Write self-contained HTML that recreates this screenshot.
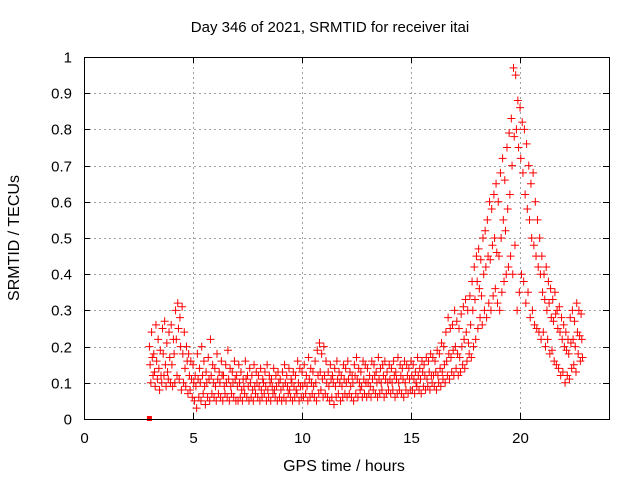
<!DOCTYPE html>
<html><head><meta charset="utf-8"><style>
body{margin:0;background:#fff}
svg{display:block;font-family:"Liberation Sans",sans-serif}
</style></head><body>
<svg id="c" width="640" height="480"></svg>
<script>
const hiVals=[.20,.24,.18,.26,.22,.19,.25,.27,.21,.24,
.26,.22,.30,.32,.28,.31,.24,.20,.18,.16,
.15,.12,.18,.14,.20,.16,.13,.17,.22,.15,
.14,.18,.13,.16,.12,.15,.19,.14,.13,.16,
.12,.15,.13,.11,.16,.12,.14,.12,.15,.13,
.12,.14,.11,.13,.15,.12,.11,.14,.12,.13,
.11,.13,.15,.12,.14,.11,.13,.12,.16,.14,
.13,.15,.12,.17,.14,.13,.16,.19,.21,.18,
.20,.16,.13,.15,.12,.14,.16,.13,.12,.15,
.14,.16,.13,.12,.15,.17,.14,.13,.16,.15,
.14,.12,.16,.15,.13,.17,.14,.15,.16,.13,
.15,.14,.16,.13,.17,.15,.14,.16,.15,.14,
.16,.15,.13,.17,.14,.16,.15,.17,.16,.18,
.17,.16,.19,.18,.21,.20,.24,.28,.25,.26,
.30,.27,.25,.29,.31,.33,.30,.34,.38,.42,
.45,.47,.44,.50,.52,.55,.60,.58,.62,.65,
.60,.68,.72,.66,.75,.79,.83,.97,.95,.88,
.86,.82,.80,.76,.70,.65,.68,.60,.55,.50,
.45,.40,.42,.38,.36,.33,.35,.30,.31,.28,
.26,.24,.22,.28,.30,.27,.32,.30,.29];
const midVals=[.15,.17,.13,.16,.14,.12,.18,.15,.13,.17,
.15,.18,.22,.25,.20,.18,.14,.16,.12,.11,
.10,.09,.11,.10,.12,.09,.10,.11,.12,.10,
.09,.11,.10,.12,.09,.10,.11,.09,.10,.11,
.09,.10,.08,.09,.11,.09,.10,.08,.09,.10,
.09,.08,.10,.09,.08,.10,.09,.08,.09,.10,
.08,.09,.10,.09,.08,.10,.09,.08,.10,.09,
.09,.10,.09,.11,.10,.09,.10,.12,.13,.11,
.12,.10,.09,.11,.10,.09,.11,.10,.09,.11,
.10,.11,.09,.10,.12,.11,.10,.09,.11,.10,
.10,.09,.11,.12,.10,.11,.10,.12,.11,.10,
.11,.10,.12,.11,.10,.12,.11,.10,.12,.11,
.12,.11,.10,.12,.11,.13,.12,.11,.13,.12,
.12,.13,.12,.14,.13,.15,.16,.18,.17,.19,
.20,.18,.17,.20,.22,.24,.21,.26,.30,.33,
.38,.36,.34,.40,.42,.45,.44,.48,.50,.46,
.45,.50,.55,.52,.58,.62,.70,.78,.80,.75,
.72,.68,.62,.58,.55,.50,.48,.45,.42,.40,
.35,.33,.30,.32,.28,.27,.29,.25,.24,.22,
.20,.19,.18,.21,.22,.20,.24,.23,.22];
const loVals=[.10,.12,.09,.11,.08,.10,.12,.09,.11,.10,
.09,.10,.12,.11,.08,.10,.09,.07,.08,.06,
.05,.03,.06,.05,.07,.04,.06,.05,.07,.06,
.05,.07,.06,.05,.07,.06,.05,.07,.06,.05,
.05,.06,.05,.07,.06,.05,.06,.05,.07,.06,
.05,.06,.07,.05,.06,.05,.07,.06,.05,.06,
.05,.06,.05,.07,.06,.05,.06,.07,.05,.06,
.06,.07,.05,.06,.07,.06,.05,.07,.08,.06,
.07,.06,.05,.06,.04,.06,.07,.05,.06,.07,
.06,.07,.06,.05,.07,.06,.08,.06,.07,.06,
.07,.06,.08,.07,.06,.07,.08,.06,.07,.08,
.07,.08,.06,.07,.08,.07,.06,.08,.07,.08,
.08,.07,.09,.08,.07,.09,.08,.09,.08,.10,
.09,.08,.10,.09,.11,.10,.12,.11,.13,.12,
.14,.12,.13,.15,.14,.16,.18,.17,.20,.22,
.25,.28,.26,.30,.28,.32,.30,.34,.36,.32,
.30,.35,.38,.40,.42,.45,.40,.48,.30,.35,
.40,.38,.32,.35,.28,.30,.26,.25,.24,.22,
.24,.20,.22,.18,.19,.16,.15,.14,.12,.13,
.10,.12,.11,.14,.15,.13,.18,.16,.17];
const startHour=3.0, stepHour=0.1;
const xTicks=[0,5,10,15,20];
const yTicks=[0,0.1,0.2,0.3,0.4,0.5,0.6,0.7,0.8,0.9,1];
const yTickLabels=["0","0.1","0.2","0.3","0.4","0.5","0.6","0.7","0.8","0.9","1"];

const L=84,R=609,T=57,B=419,XMAX=24.08;
const sx=v=>L+v/XMAX*(R-L), sy=v=>B-v*(B-T);
const svg=document.getElementById('c');const NS='http://www.w3.org/2000/svg';
function mk(t,a,p){const e=document.createElementNS(NS,t);for(const k in a)e.setAttribute(k,a[k]);(p||svg).appendChild(e);return e;}
const tx=(x,y,s,anchor,name,fs)=>{const e=mk('text',{x:x,y:y,'font-size':fs||15,'text-anchor':anchor,fill:'#000'});e.textContent=s;

return e;};
tx(330,32,'Day 346 of 2021, SRMTID for receiver itai','middle','chart-title',15);
tx(344,471,'GPS time / hours','middle','x-axis-title',16);
const yt=tx(0,0,'SRMTID / TECUs','middle','y-axis-title',16);yt.setAttribute('transform','translate(19,238) rotate(-90)');
const grid=mk('g',{stroke:'#a0a0a0','stroke-width':1,'stroke-dasharray':'2,3'});


yTicks.forEach((v,i)=>{const y=Math.round(sy(v))+.5;
 if(i>0&&i<yTicks.length-1)mk('line',{x1:L,x2:R,y1:y,y2:y},grid);
 mk('line',{x1:L,x2:L+6,y1:y,y2:y,stroke:'#000'});mk('line',{x1:R-6,x2:R,y1:y,y2:y,stroke:'#000'});
 tx(L-12,y+5,yTickLabels[i],'end','y-tick-label',15);});
xTicks.forEach(v=>{const x=Math.round(sx(v))+.5;
 if(v>0)mk('line',{x1:x,x2:x,y1:T,y2:B},grid);
 mk('line',{x1:x,x2:x,y1:B,y2:B-6,stroke:'#000'});mk('line',{x1:x,x2:x,y1:T,y2:T+6,stroke:'#000'});
 tx(x,B+24,String(v),'middle','x-tick-label',15);});
const pts=mk('g',{stroke:'#ff0000','stroke-width':1,fill:'none'});


function plus(t,v){const x=sx(t),y=sy(v);mk('path',{d:`M${x-4} ${y}H${x+4}M${x} ${y-4}V${y+4}`},pts);}
[[hiVals,0],[midVals,0.033],[loVals,0.066]].forEach(([arr,off])=>{
 arr.forEach((v,i)=>{plus(startHour+i*stepHour+off,v);});});
const sq=mk('rect',{x:sx(3.0)-2.5,y:sy(0)-3,width:5,height:5,fill:'#ff0000'});


mk('rect',{x:L+.5,y:T+.5,width:R-L,height:B-T,fill:'none',stroke:'#000'});
</script>
</body></html>
